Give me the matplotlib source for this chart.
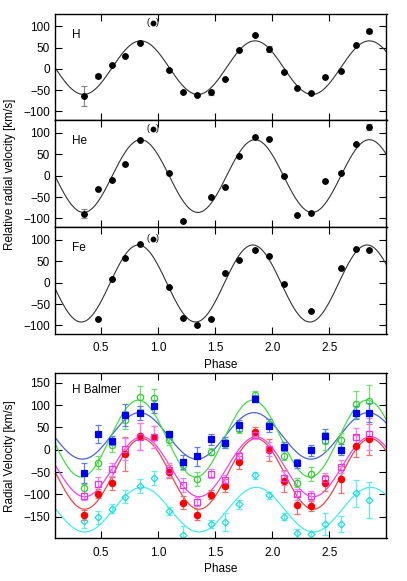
import numpy as np
import matplotlib.pyplot as plt

plt.rcParams['font.family'] = ['Liberation Sans', 'DejaVu Sans']
plt.rcParams['font.size'] = 8.5

# --- upper panels: single-element lines ---
h_phase = [0.352, 0.474, 0.596, 0.716, 0.840, 1.099, 1.218, 1.346, 1.468, 1.590,
           1.713, 1.846, 1.975, 2.099, 2.221, 2.343, 2.465, 2.605, 2.730, 2.849]
h_rv = [-64, -17, 10, 31, 60, -2, -55, -61, -55, -24, 44, 80, 47, -8, -45, -56, -18, -6, 57, 89]
h_err = [24, 5, 0, 0, 0, 0, 0, 0, 6, 0, 0, 0, 7, 0, 0, 0, 0, 0, 0, 5]

he_phase = [0.352, 0.474, 0.596, 0.716, 0.840, 1.099, 1.218, 1.468, 1.590, 1.713,
            1.846, 1.975, 2.099, 2.221, 2.343, 2.465, 2.605, 2.730, 2.849]
he_rv = [-89, -32, -11, 28, 83, 6, -106, -50, -27, 45, 91, 85, -1, -92, -87, -12, 6, 75, 113]
he_err = [11, 0, 0, 0, 0, 0, 3, 0, 0, 0, 0, 0, 0, 0, 0, 0, 0, 0, 7]

fe_phase = [0.474, 0.596, 0.716, 0.840, 1.099, 1.218, 1.346, 1.468, 1.590, 1.713,
            1.846, 1.975, 2.099, 2.343, 2.605, 2.730, 2.849]
fe_rv = [-84, 9, 57, 90, -10, -83, -98, -84, 22, 52, 76, 62, -4, -66, 34, 78, 77]
fe_err = [0] * len(fe_phase)

# rejected point, shown in brackets
out_phase = 0.956
out_rv = [107, 108, 102]

# fitted sine: gamma, K, phase of maximum
top_gamma = [3, -1, -2]
top_K = [63, 85, 90]
top_phimax = [0.85, 0.85, 0.83]
top_names = ['H', 'He', 'Fe']

# --- lower panel: Balmer lines ---
bal_phase = [0.352, 0.474, 0.596, 0.716, 0.840, 0.962, 1.099, 1.218, 1.346, 1.468, 1.590,
             1.713, 1.846, 1.975, 2.099, 2.221, 2.343, 2.465, 2.605, 2.730, 2.849]
blue_rv = [-52, 36, 20, 78, 82, 97, 35, -27, -15, 23, 16, 55, 114, 54, 7, -30, -1, 31, 0, 83, 83]
blue_err = [22, 20, 10, 25, 15, 15, 8, 15, 22, 12, 12, 12, 8, 15, 10, 10, 12, 15, 12, 15, 22]
green_rv = [-86, -29, 11, 66, 117, 116, 21, -33, -65, -4, 13, 46, 122, 58, -13, -74, -54, 20, 22, 102, 110]
green_err = [10, 15, 15, 20, 25, 20, 10, 12, 15, 8, 10, 8, 10, 10, 10, 10, 15, 20, 15, 30, 35]
magenta_rv = [-104, -77, -44, 1, 29, 28, -45, -79, -116, -54, -68, -15, 34, 2, -63, -100, -103, -65, -38, 28, 35]
magenta_err = [8, 15, 15, 25, 30, 25, 15, 15, 10, 10, 12, 10, 10, 15, 15, 12, 10, 12, 15, 20, 35]
red_rv = [-146, -98, -75, -9, 30, 28, -49, -118, -145, -101, -80, -28, 40, 0, -70, -123, -126, -74, -66, 8, 23]
red_err = [12, 10, 15, 38, 30, 25, 15, 15, 12, 10, 15, 15, 10, 25, 25, 20, 12, 18, 30, 25, 35]
cyan_phase = [0.352, 0.474, 0.596, 0.716, 0.840, 0.962, 1.099, 1.218, 1.468, 1.590,
              1.713, 1.846, 1.975, 2.099, 2.221, 2.343, 2.465, 2.605, 2.730, 2.849]
cyan_rv = [-159, -151, -132, -105, -81, -63, -137, -190, -166, -161, -122, -57, -102, -150, -187, -189, -166, -166, -97, -112]
cyan_err = [15, 15, 10, 15, 15, 15, 10, 20, 10, 20, 10, 8, 8, 8, 10, 8, 25, 18, 30, 40]

bal_gamma = [31, 25, -38, -54, -134]
bal_K = [52, 86, 67, 79, 50]
bal_phimax = [0.84, 0.83, 0.86, 0.86, 0.86]


def sine(x, gamma, K, phimax):
    return gamma + K * np.cos(2 * np.pi * (x - phimax))


def style(ax):
    ax.set_xlim(0.1, 3.0)
    ax.set_xticks([0.5, 1.0, 1.5, 2.0, 2.5])
    ax.tick_params(direction='in', top=True, right=True, length=5, width=0.8)
    ax.tick_params(axis='x', pad=6)
    for s in ax.spines.values():
        s.set_linewidth(1.0)


fig = plt.figure(figsize=(4.07, 5.81), dpi=100)
W, H = 407.0, 581.0
left, right = 55 / W, 386.5 / W
tops = [13.6, 120, 227]
bots = [120, 227, 334]
xx = np.linspace(0.1, 3.0, 500)

top_data = [(h_phase, h_rv, h_err), (he_phase, he_rv, he_err), (fe_phase, fe_rv, fe_err)]
for i in range(3):
    ax = fig.add_axes([left, 1 - bots[i] / H, right - left, (bots[i] - tops[i]) / H])
    ph, rv, err = top_data[i]
    ax.plot(xx, sine(xx, top_gamma[i], top_K[i], top_phimax[i]), color='#333333', lw=0.8)
    ax.errorbar(ph, rv, yerr=err, fmt='o', color='black', ms=3.9, ecolor='#888888',
                elinewidth=0.9, capsize=2, capthick=0.9)
    ax.plot([out_phase], [out_rv[i]], 'o', color='black', ms=3.2)
    ax.annotate('(', (out_phase, out_rv[i]), xytext=(-3.4, 0.3), textcoords='offset points',
                ha='center', va='center', fontsize=6.5)
    ax.annotate(')', (out_phase, out_rv[i]), xytext=(3.4, 0.3), textcoords='offset points',
                ha='center', va='center', fontsize=6.5)
    ax.set_ylim(-120, 130)
    ax.set_yticks([-100, -50, 0, 50, 100])
    style(ax)
    ax.text(0.051, 0.80, top_names[i], transform=ax.transAxes, ha='left', va='center')
    if i < 2:
        ax.set_xticklabels([])
    else:
        ax.set_xlabel('Phase', labelpad=3)

fig.text(10 / W, 1 - 174 / H, 'Relative radial velocity [km/s]', rotation=90,
         ha='center', va='center')

# lower panel
ax = fig.add_axes([left, 1 - 538.3 / H, right - left, 165 / H])
series = [
    (bal_phase, blue_rv, blue_err, 's', '#0000ee', 'full', '#5f7ff0', '#4a62dd', 4.5),
    (bal_phase, green_rv, green_err, 'o', '#33cc33', 'none', '#70e070', '#44dd44', 4.5),
    (bal_phase, magenta_rv, magenta_err, 's', '#ee33ee', 'none', '#f080f0', '#ee44ee', 4.5),
    (bal_phase, red_rv, red_err, 'o', '#ff0000', 'full', '#f07070', '#ee4444', 4.5),
    (cyan_phase, cyan_rv, cyan_err, 'D', '#22dddd', 'none', '#60eeee', '#44eeee', 3.5),
]
for j, (ph, rv, err, mk, col, fill, ecol, lcol, ms) in enumerate(series):
    ax.plot(xx, sine(xx, bal_gamma[j], bal_K[j], bal_phimax[j]), color=lcol, lw=0.9)
for j in [4, 3, 2, 1, 0]:
    ph, rv, err, mk, col, fill, ecol, lcol, ms = series[j]
    ax.errorbar(ph, rv, yerr=err, fmt=mk, color=col, ms=ms, ecolor=ecol,
                mfc=col if fill == 'full' else 'none', mew=0.9,
                elinewidth=0.9, capsize=2, capthick=0.9)
ax.set_ylim(-198, 171)
ax.set_yticks([-150, -100, -50, 0, 50, 100, 150])
style(ax)
ax.set_xlabel('Phase', labelpad=3)
ax.text(0.051, 0.90, 'H Balmer', transform=ax.transAxes, ha='left', va='center')
fig.text(10 / W, 1 - 456 / H, 'Radial Velocity [km/s]', rotation=90,
         ha='center', va='center')

fig.savefig('out.png', dpi=100)
